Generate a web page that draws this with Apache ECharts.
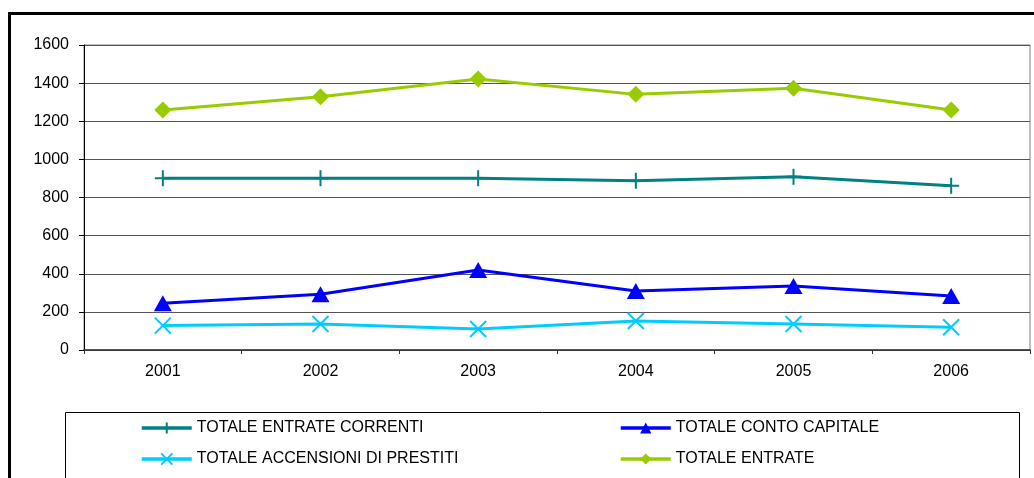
<!DOCTYPE html>
<html>
<head>
<meta charset="utf-8">
<script src="https://cdn.jsdelivr.net/npm/echarts@6/dist/echarts.min.js"></script>
<style>
  html, body { margin: 0; padding: 0; background: #ffffff; }
  #chart { width: 1034px; height: 478px; }
</style>
</head>
<body>
<div id="chart"></div>
<script>
// Years on the category axis
const years = ['2001', '2002', '2003', '2004', '2005', '2006'];

// Series values (revenue totals per year)
const entrateCorrenti = [901, 901, 901, 888, 909, 862];
const contoCapitale = [245, 292, 420, 310, 336, 283];
const accensioniPrestiti = [128, 136, 110, 152, 136, 119];
const totaleEntrate = [1259, 1329, 1422, 1341, 1373, 1259];

// Series names shown in the legend
const names = [
  'TOTALE ENTRATE CORRENTI',
  'TOTALE CONTO CAPITALE',
  'TOTALE ACCENSIONI DI PRESTITI',
  'TOTALE ENTRATE'
];

const FONT = '"Liberation Sans", Arial, sans-serif';
const TEAL = '#008080', BLUE = '#0000FF', CYAN = '#00CCFF', GREEN = '#99CC00';

function lineSeries(name, data, color, symbol, symbolSize, stroked) {
  return {
    name: name,
    type: 'line',
    data: data,
    symbol: symbol,
    symbolSize: symbolSize,
    showAllSymbol: true,
    lineStyle: { color: color, width: 3 },
    itemStyle: stroked
      ? { color: color, borderColor: color, borderWidth: 2 }
      : { color: color, borderWidth: 0 },
    emphasis: { disabled: true },
    z: 3
  };
}

const legendText = { color: '#000000', fontSize: 16, fontFamily: FONT, lineHeight: 16 };

function legendBlock(items, left) {
  return {
    data: items,
    orient: 'vertical',
    left: left, top: 420, padding: 0,
    itemWidth: 50, itemHeight: 14, itemGap: 15,
    lineStyle: { width: 3.5 },
    textStyle: legendText,
    selectedMode: false
  };
}

const chart = echarts.init(document.getElementById('chart'), null, { renderer: 'canvas' });

chart.setOption({
  animation: false,
  backgroundColor: '#ffffff',
  textStyle: { fontFamily: FONT },
  grid: {
    left: 84, right: 4, top: 45, bottom: 128,
    show: true, borderColor: '#808080', borderWidth: 1
  },
  xAxis: {
    type: 'category',
    data: years,
    boundaryGap: true,
    axisLine: { lineStyle: { color: '#333333', width: 1.5 } },
    axisTick: { show: true, length: 4, lineStyle: { color: '#333333' } },
    axisLabel: { color: '#000000', fontSize: 16, fontFamily: FONT, margin: 14 },
    splitLine: { show: false }
  },
  yAxis: {
    type: 'value',
    min: 0, max: 1600, interval: 200,
    axisLine: { show: true, lineStyle: { color: '#000000', width: 1 } },
    axisTick: { show: true, length: 5, lineStyle: { color: '#000000' } },
    axisLabel: {
      color: '#000000', fontSize: 16, fontFamily: FONT, margin: 15,
      formatter: function (v) { return String(v); }
    },
    splitLine: { show: true, lineStyle: { color: '#555555', width: 1 } }
  },
  legend: [
    legendBlock([names[0], names[2]], 140),
    legendBlock([names[1], names[3]], 619)
  ],
  graphic: [
    // outer chart frame
    {
      type: 'rect', silent: true, z: -1,
      shape: { x: 9.5, y: 13.5, width: 1200, height: 600 },
      style: { fill: null, stroke: '#000000', lineWidth: 3 }
    },
    // legend box
    {
      type: 'rect', silent: true, z: -1,
      shape: { x: 65.5, y: 412.5, width: 954, height: 80 },
      style: { fill: '#ffffff', stroke: '#000000', lineWidth: 1 }
    }
  ],
  series: [
    lineSeries(names[0], entrateCorrenti, TEAL, 'path://M5,0L5,10M0,5L10,5', 16, true),
    lineSeries(names[1], contoCapitale, BLUE, 'triangle', [18, 16], false),
    lineSeries(names[2], accensioniPrestiti, CYAN, 'path://M0,0L10,10M10,0L0,10', 16, true),
    lineSeries(names[3], totaleEntrate, GREEN, 'diamond', [17, 17], false)
  ]
});
</script>
</body>
</html>
